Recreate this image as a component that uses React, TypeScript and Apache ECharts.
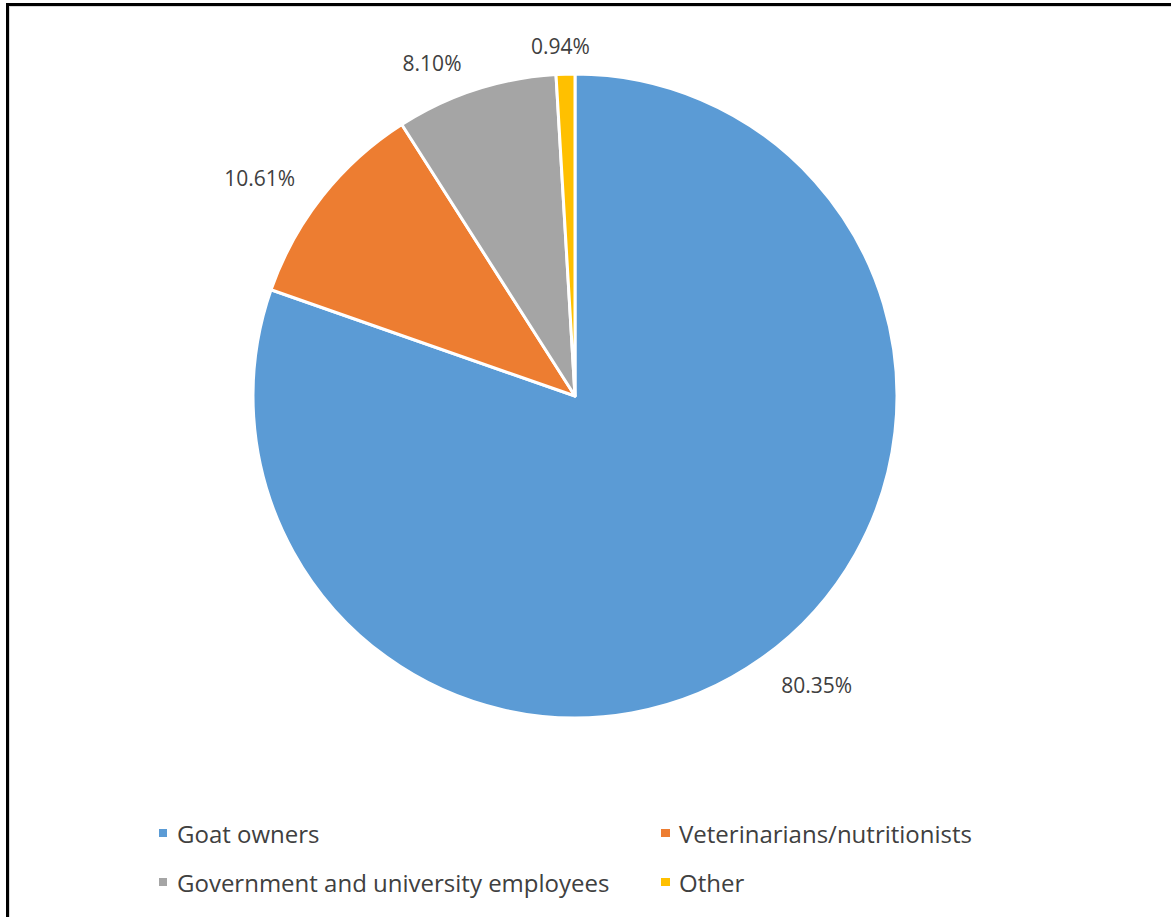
import React, { useEffect, useRef } from "react";
import * as echarts from "echarts";

const categories = [
  "Goat owners",
  "Veterinarians/nutritionists",
  "Government and university employees",
  "Other",
];
const values = [80.35, 10.61, 8.1, 0.94];
const colors = ["#5B9BD5", "#ED7D31", "#A5A5A5", "#FFC000"];

const FONT = "'Open Sans', 'Noto Sans', sans-serif";

export default function App() {
  const ref = useRef<HTMLDivElement>(null);
  useEffect(() => {
    if (!ref.current) return;
    const chart = echarts.init(ref.current, undefined, { renderer: "svg" });
    const data = categories.map((name, i) => ({
      name,
      value: values[i],
      itemStyle: { color: colors[i] },
    }));
    const legendText = {
      fontFamily: FONT,
      fontSize: 24,
      lineHeight: 24,
      color: "#404040",
      padding: [0, 0, 0, 4],
    };
    chart.setOption({
      animation: false,
      backgroundColor: "#ffffff",
      graphic: [
        { type: "rect", shape: { x: 6, y: 3, width: 3, height: 914 }, style: { fill: "#000" } },
        { type: "rect", shape: { x: 6, y: 3, width: 1165, height: 3 }, style: { fill: "#000" } },
        { type: "rect", shape: { x: 9, y: 6, width: 1, height: 911 }, style: { fill: "#d9d9d9" } },
        { type: "rect", shape: { x: 9, y: 6, width: 1162, height: 1 }, style: { fill: "#d9d9d9" } },
      ],
      legend: [
        {
          data: [categories[0], categories[2]],
          orient: "vertical",
          left: 152,
          top: 816,
          padding: 5,
          itemGap: 25,
          itemWidth: 10,
          itemHeight: 10,
          icon: "rect",
          textStyle: legendText,
        },
        {
          data: [categories[1], categories[3]],
          orient: "vertical",
          left: 654,
          top: 816,
          padding: 5,
          itemGap: 25,
          itemWidth: 11,
          itemHeight: 10,
          icon: "rect",
          textStyle: { ...legendText, padding: [0, 0, 0, 3] },
        },
      ],
      series: [
        {
          type: "pie",
          center: [575, 396],
          radius: 322,
          startAngle: 90,
          clockwise: true,
          data,
          itemStyle: { borderColor: "#ffffff", borderWidth: 3 },
          label: {
            show: true,
            position: "outside",
            formatter: (p: any) => p.value.toFixed(2) + "%",
            fontFamily: FONT,
            fontSize: 21,
            color: "#404040",
          },
          labelLine: { show: false, length: 22, length2: 0 },
          labelLayout: (p: any) => {
            if (p.dataIndex === 3) return { dx: 30, dy: -6 };
            if (p.dataIndex === 0) return { dx: 2, dy: 8 };
            if (p.dataIndex === 2) return { dx: 11, dy: -12 };
            if (p.dataIndex === 1) return { dx: -10, dy: -5 };
            return {};
          },
          emphasis: { disabled: true },
        },
      ],
    });
    return () => chart.dispose();
  }, []);
  return (
    <div
      ref={ref}
      style={{ position: "absolute", left: 0, top: 0, width: 1171, height: 917 }}
    />
  );
}
